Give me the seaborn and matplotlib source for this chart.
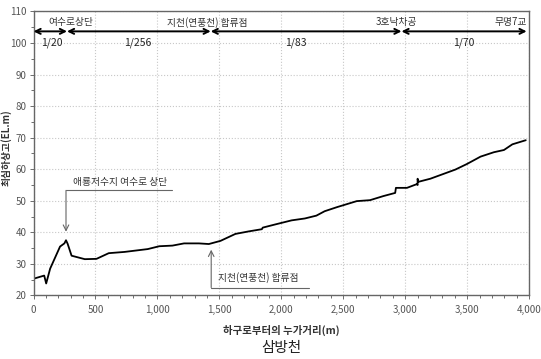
import matplotlib
matplotlib.use("Agg")
import matplotlib.pyplot as plt
import matplotlib.ticker as mticker
import seaborn as sns
import pandas as pd

# river bed profile
dist = [0, 86, 102, 134, 214, 249, 262, 275, 307, 414, 508, 607, 735, 922,
        1015, 1121, 1215, 1335, 1415, 1509, 1629, 1736, 1843, 1850, 1950,
        2083, 2190, 2283, 2350, 2450, 2609, 2716, 2824, 2919, 2925, 3014,
        3095, 3100, 3100, 3105, 3203, 3405, 3500, 3608, 3716, 3797, 3865, 3973]
elev = [25.3, 26.3, 23.8, 28.5, 35.5, 36.5, 37.5, 36.4, 32.6, 31.5, 31.6,
        33.4, 33.8, 34.7, 35.6, 35.8, 36.5, 36.5, 36.3, 37.3, 39.5, 40.3,
        41.0, 41.5, 42.5, 43.8, 44.4, 45.3, 46.7, 48.0, 49.9, 50.2, 51.5,
        52.5, 54.1, 54.1, 55.3, 55.0, 57.0, 56.0, 57.0, 59.9, 61.7, 64.0,
        65.4, 66.1, 67.9, 69.2]

# slope sections along the top
sec_bounds = [0, 270, 1430, 2970, 3980]
sec_slopes = ["1/20", "1/256", "1/83", "1/70"]
sec_slope_x = [150, 840, 2120, 3470]
sec_names = ["여수로상단", "지천(연풍천) 합류점", "3호낙차공", "무명7교"]
sec_name_x = [300, 1400, 2930, 3850]

df = pd.DataFrame({"dist": dist, "elev": elev})

sns.set_style("white")
plt.rcParams["font.family"] = ["Noto Sans CJK KR", "DejaVu Sans"]

fig = plt.figure(figsize=(5.41, 3.59), dpi=100)
ax = fig.add_axes([0.062, 0.177, 0.916, 0.791])

sns.lineplot(data=df, x="dist", y="elev", ax=ax, color="black", lw=1.3,
             sort=False, estimator=None)

ax.set_xlim(0, 4000)
ax.set_ylim(20, 110)
ax.xaxis.set_major_locator(mticker.MultipleLocator(500))
ax.xaxis.set_minor_locator(mticker.MultipleLocator(100))
ax.yaxis.set_major_locator(mticker.MultipleLocator(10))
ax.yaxis.set_minor_locator(mticker.MultipleLocator(5))
ax.xaxis.set_major_formatter(mticker.StrMethodFormatter("{x:,.0f}"))
ax.grid(True, which="major", color="#c8c8c8", lw=0.8, ls=":")
ax.tick_params(which="both", direction="out", labelsize=7, colors="#555555",
               length=3, width=0.6, bottom=True, left=True)
ax.tick_params(axis="x", pad=4)
ax.tick_params(axis="y", pad=2)
ax.tick_params(which="minor", length=2)
for s in ax.spines.values():
    s.set_color("#666666")
    s.set_linewidth(1.0)

ax.set_xlabel("하구로부터의 누가거리(m)", fontsize=7.5, fontweight="bold",
              color="#333333")
ax.set_ylabel("최심하상고(EL.m)", fontsize=7, fontweight="bold",
              color="#333333")
ax.xaxis.set_label_coords(0.5, -0.105)
ax.yaxis.set_label_coords(-0.044, 0.52)

# slope arrows
for i in range(len(sec_slopes)):
    ax.annotate("", xy=(sec_bounds[i], 103.7), xytext=(sec_bounds[i + 1], 103.7),
                arrowprops=dict(arrowstyle="<->", color="black", lw=1.4,
                                shrinkA=0, shrinkB=0, mutation_scale=9))
    ax.text(sec_slope_x[i], 100.2, sec_slopes[i], fontsize=7.5, ha="center",
            va="center", color="#222222")
for x, name in zip(sec_name_x, sec_names):
    ax.text(x, 106.6, name, fontsize=7, ha="center", va="center",
            color="#333333")

# callouts
ax.plot([1120, 262], [53.3, 53.3], color="#666666", lw=0.8)
ax.annotate("", xy=(262, 40.2), xytext=(262, 53.3),
            arrowprops=dict(arrowstyle="->", color="#666666", lw=0.8,
                            shrinkA=0, shrinkB=0))
ax.text(695, 55.9, "애룡저수지 여수로 상단", fontsize=7, ha="center",
        va="center", color="#333333")

ax.plot([2222, 1434], [22.5, 22.5], color="#666666", lw=0.8)
ax.annotate("", xy=(1434, 34.5), xytext=(1434, 22.5),
            arrowprops=dict(arrowstyle="->", color="#666666", lw=0.8,
                            shrinkA=0, shrinkB=0))
ax.text(1816, 25.7, "지천(연풍천) 합류점", fontsize=7, ha="center",
        va="center", color="#333333")

fig.text(0.52, 0.031, "삼방천", fontsize=10.5, ha="center", va="center",
         color="#222222")

fig.savefig("out.png", dpi=100)
